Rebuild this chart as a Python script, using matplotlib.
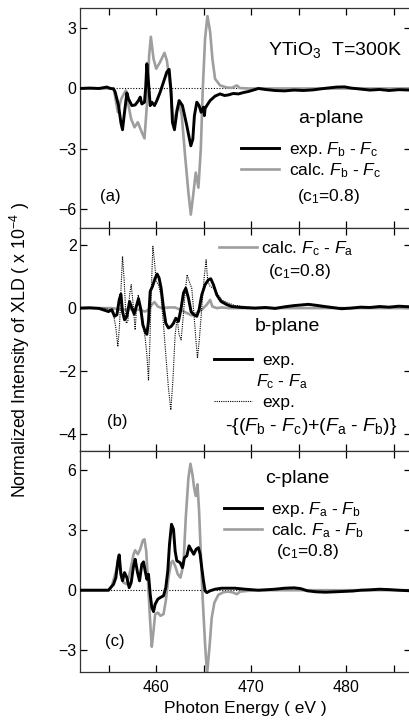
import matplotlib
matplotlib.use("Agg")
import matplotlib.pyplot as plt

plt.rcParams['font.family'] = ['Liberation Sans', 'DejaVu Sans']
plt.rcParams['mathtext.fontset'] = 'custom'
plt.rcParams['mathtext.rm'] = 'Liberation Sans'
plt.rcParams['mathtext.it'] = 'Liberation Sans:italic'
plt.rcParams['mathtext.bf'] = 'Liberation Sans:bold'

GRAY = '#9e9e9e'

# (a) a-plane : Fb - Fc
a_exp_e = [452.0, 453.0, 454.0, 454.82, 455.2, 455.53, 455.70, 456.05, 456.30, 456.47, 456.68, 456.93,
           457.10, 457.45, 457.80, 458.15, 458.33, 458.50, 458.78, 458.9, 459.03, 459.20, 459.38,
           459.55, 459.83, 460.08, 460.43, 460.78, 461.13, 461.37, 461.58, 461.72, 461.93, 462.18,
           462.42, 462.77, 463.23, 463.65, 463.86, 464.03, 464.28, 464.52, 464.73, 464.98, 465.08,
           465.15, 465.33, 465.68, 466.20, 466.73, 467.2, 467.61, 468.1, 468.66, 469.2, 469.71,
           470.2, 470.76, 471.5, 472.5, 473.5, 474.5, 475.5, 476.5, 477.3, 478.0, 479.0, 479.8,
           480.5, 481.5, 482.5, 483.5, 484.5, 485.5, 486.8]
a_exp_v = [0.0, 0.02, 0.0, 0.07, 0.0, -0.02, -0.18, -0.85, -1.7, -2.05, -1.18, -0.22,
           -0.52, -0.85, -0.82, -0.6, -0.43, -0.77, -0.68, 0.0, 1.23, 0.32, -0.85,
           -0.68, -0.85, -0.6, -0.18, 0.32, 0.82, 0.95, -0.18, -1.68, -2.05, -1.18,
           -0.6, -0.85, -1.85, -2.85, -2.52, -1.35, -0.68, -0.85, -1.18, -0.93, -1.35,
           -1.0, -0.85, -0.6, -0.38, -0.27, -0.35, -0.32, -0.25, -0.27, -0.2, -0.15,
           -0.08, 0.0, -0.05, -0.1, -0.12, -0.08, -0.1, -0.07, -0.02, 0.02, 0.07, 0.08,
           0.02, -0.03, -0.08, -0.05, -0.1, -0.06, -0.08]
a_calc_e = [452.0, 455.53, 455.70, 455.98, 456.33, 456.82, 457.10, 457.38, 457.73, 458.08, 458.50,
            458.78, 459.03, 459.27, 459.45, 459.73, 460.01, 460.43, 460.88, 461.13, 461.48, 461.72,
            461.90, 462.18, 462.42, 462.70, 463.05, 463.40, 463.65, 463.93, 464.17, 464.45, 464.70,
            464.91, 465.15, 465.40, 465.68, 465.92, 466.20, 466.73, 467.43, 467.96, 468.48, 468.83,
            469.71, 486.8]
a_calc_v = [0.0, 0.0, -0.43, -1.18, -0.52, -0.1, -0.85, -1.52, -1.93, -1.68, -2.18,
            -2.48, -0.85, 1.65, 2.57, 1.48, 0.98, 1.32, 1.77, 1.4, 0.15, -1.27,
            -1.68, -1.02, -0.68, -1.35, -3.35, -5.18, -6.27, -5.18, -4.18, -4.93, -3.02,
            0.0, 2.48, 3.6, 2.82, 1.48, 0.48, 0.15, 0.05, 0.03, 0.15, 0.02,
            0.0, 0.0]

# (b) b-plane : Fc - Fa
b_exp_e = [452.0, 453.0, 454.0, 455.00, 455.35, 455.63, 455.88, 456.12, 456.30, 456.47, 456.68,
           456.93, 457.21, 457.45, 457.70, 457.87, 458.15, 458.40, 458.61, 458.85, 459.03, 459.20,
           459.38, 459.62, 459.90, 460.11, 460.32, 460.53, 460.78, 461.02, 461.30, 461.58, 461.83,
           462.07, 462.35, 462.63, 462.88, 463.12, 463.40, 463.68, 463.96, 464.28, 464.52, 464.80,
           465.15, 465.50, 465.75, 466.03, 466.38, 466.83, 467.43, 467.96, 469.01, 470.41, 471.5,
           472.5, 473.5, 474.5, 475.3, 476.0, 476.8, 477.5, 478.5, 479.5, 480.5, 481.5, 482.5,
           483.5, 484.5, 485.5, 486.8]
b_exp_v = [0.0, 0.01, -0.01, -0.11, -0.05, -0.26, -0.21, 0.26, 0.44, -0.11, -0.37,
           -0.26, 0.21, 0.0, -0.19, 0.0, 0.30, -0.05, -0.53, -0.74, -0.83, -0.42,
           0.53, 0.69, 0.95, 1.08, 0.95, 0.63, 0.0, -0.48, -0.63, -0.58, -0.48,
           -0.32, -0.42, 0.0, 0.48, 0.63, 0.32, -0.11, -0.21, -0.26, -0.05, 0.42,
           0.74, 0.90, 0.93, 0.74, 0.42, 0.21, 0.11, 0.05, 0.02, 0.0, 0.02,
           -0.01, 0.04, 0.08, 0.1, 0.12, 0.09, 0.06, 0.02, -0.02, 0.0, 0.03, 0.02,
           0.05, 0.03, 0.06, 0.04]
b_calc_e = [452.0, 455.35, 456.05, 456.75, 457.45, 458.15, 458.85, 459.20, 459.55, 459.83, 460.18,
            460.60, 461.30, 462.00, 462.53, 463.05, 463.75, 464.10, 464.80, 465.33, 465.68, 465.92,
            466.38, 466.90, 467.61, 486.8]
b_calc_v = [0.0, 0.0, -0.03, -0.05, -0.03, -0.05, -0.11, -0.05, 0.11, 0.19, 0.05,
            0.0, 0.02, 0.02, -0.05, -0.13, -0.23, -0.19, -0.05, 0.11, 0.26, 0.05,
            0.0, 0.02, 0.0, 0.0]
b_sum_e = [452.0, 454.5, 455.18, 455.53, 455.77, 455.98, 456.16, 456.33, 456.47, 456.65, 456.86,
           457.03, 457.21, 457.38, 457.56, 457.80, 457.94, 458.12, 458.33, 458.57, 458.85, 459.03,
           459.20, 459.34, 459.48, 459.66, 459.83, 460.01, 460.25, 460.50, 460.78, 461.02, 461.30,
           461.55, 461.76, 462.00, 462.21, 462.42, 462.63, 462.84, 463.05, 463.26, 463.47, 463.75,
           463.96, 464.17, 464.35, 464.56, 464.80, 465.05, 465.26, 465.43, 465.68, 466.03, 466.38,
           466.90, 467.61, 468.31, 469.36, 470.41, 471.5, 472.5, 473.5, 474.5, 475.5, 476.5,
           477.5, 478.5, 479.5, 480.5, 481.5, 482.5, 483.5, 484.5, 485.5, 486.8]
b_sum_v = [0.0, 0.0, -0.05, -0.21, -0.63, -1.22, -0.53, 0.74, 1.64, 0.85, -0.48,
           -0.42, 0.42, 0.74, 0.21, -0.69, 0.0, 0.42, 0.05, -0.42, -0.95, -1.48,
           -2.28, -1.16, 0.42, 1.96, 1.48, 0.85, 0.74, 0.42, -0.53, -1.48, -2.54,
           -3.23, -2.33, -0.85, -0.32, -0.85, -1.01, -0.32, 0.48, 1.06, 0.85, 0.63,
           -0.11, -0.95, -1.59, -0.95, 0.0, 0.95, 1.53, 0.85, 0.69, 0.63, 0.48,
           0.26, 0.16, 0.08, 0.05, 0.0, 0.03, -0.02, 0.05, 0.07, 0.12, 0.08,
           0.04, 0.0, 0.02, -0.02, 0.04, 0.03, 0.06, 0.02, 0.07, 0.03]

# (c) c-plane : Fa - Fb
c_exp_e = [452.0, 455.0, 455.53, 455.77, 455.98, 456.12, 456.30, 456.47, 456.68, 456.93, 457.17,
           457.38, 457.63, 457.80, 458.05, 458.26, 458.50, 458.68, 458.85, 459.03, 459.20, 459.38,
           459.55, 459.73, 459.90, 460.18, 460.43, 460.78, 461.02, 461.23, 461.41, 461.62, 461.83,
           462.00, 462.18, 462.53, 462.77, 462.98, 463.23, 463.47, 463.75, 463.96, 464.21, 464.45,
           464.63, 464.80, 464.98, 465.15, 465.33, 465.68, 466.20, 466.90, 468.31, 469.36, 470.76,
           471.5, 472.5, 473.5, 474.5, 475.2, 475.9, 476.8, 477.8, 478.8, 479.8, 480.7, 481.5,
           482.5, 483.5, 484.5, 485.5, 486.8]
c_exp_v = [0.0, 0.0, 0.3, 0.63, 1.47, 1.77, 0.8, 0.47, 0.88, 0.63, 0.13,
           0.38, 1.22, 1.55, 0.88, 0.47, 1.3, 1.42, 0.97, 0.55, 0.8, -0.2,
           -0.87, -1.07, -0.7, -0.45, -0.37, -0.28, 0.13, 0.97, 2.3, 3.3, 3.05,
           1.97, 1.47, 1.38, 1.13, 1.63, 1.72, 2.22, 1.97, 1.8, 2.05, 2.13,
           1.8, 1.13, 0.47, -0.03, -0.12, -0.03, 0.05, 0.1, 0.1, 0.05, 0.0,
           0.02, 0.05, 0.1, 0.12, 0.08, -0.03, -0.08, -0.1, -0.08, -0.06, -0.04, 0.0,
           0.02, 0.05, 0.03, 0.0, -0.03]
c_calc_e = [452.0, 455.00, 455.35, 455.70, 455.98, 456.23, 456.58, 456.93, 457.28, 457.63, 457.80,
            458.08, 458.33, 458.61, 458.78, 458.96, 459.13, 459.31, 459.48, 459.55, 459.73, 459.90,
            460.18, 460.46, 460.78, 461.02, 461.30, 461.58, 461.76, 462.00, 462.28, 462.56, 462.88,
            463.12, 463.40, 463.61, 463.82, 464.00, 464.17, 464.35, 464.52, 464.73, 464.91, 465.15,
            465.36, 465.61, 465.85, 466.13, 466.55, 467.08, 467.61, 468.13, 468.48, 468.83, 469.71,
            470.76, 486.8]
c_calc_v = [0.0, 0.0, 0.22, 0.8, 1.3, 0.97, 0.38, 0.3, 0.97, 1.8, 2.0,
            1.8, 2.05, 2.5, 2.55, 1.97, 0.63, -1.03, -2.37, -2.83, -2.03, -1.2,
            -1.12, -1.28, -1.2, -0.53, 0.63, 1.38, 1.47, 1.22, 0.8, 0.63, 1.3,
            3.63, 5.63, 6.33, 5.8, 5.13, 4.72, 5.3, 3.97, 1.47, -0.53, -2.7,
            -4.2, -2.87, -1.37, -0.62, -0.23, -0.1, -0.07, -0.12, -0.2, -0.07, -0.03,
            0.0, 0.0]

xlim = (452.0, 486.8)

fig = plt.figure(figsize=(4.09, 7.23), dpi=100)
L, W = 80 / 409, 331 / 409
ax_a = fig.add_axes([L, 1 - 228.3 / 723, W, 220.3 / 723])
ax_b = fig.add_axes([L, 1 - 451.0 / 723, W, 222.7 / 723])
ax_c = fig.add_axes([L, 1 - 671.7 / 723, W, 220.7 / 723])

for ax in (ax_a, ax_b, ax_c):
    ax.set_xlim(*xlim)
    ax.set_xticks([460, 470, 480])
    ax.set_xticks([455, 465, 475, 485], minor=True)
    ax.tick_params(which='both', direction='in', top=True, right=True, length=5,
                   width=0.9, labelsize=11.5, pad=2.5)
    ax.tick_params(axis='x', pad=6)
    for s in ax.spines.values():
        s.set_linewidth(0.9)
        s.set_color('#333333')
for ax in (ax_a, ax_b):
    ax.tick_params(axis='x', labelbottom=False)

# panel a
ax_a.axhline(0, color='black', lw=0.8, ls=(0, (1, 1.5)))
ax_a.plot(a_calc_e, a_calc_v, color=GRAY, lw=1.9, label=r'calc. $F_{\rm b}$ - $F_{\rm c}$', zorder=2)
ax_a.plot(a_exp_e, a_exp_v, color='black', lw=2.1, label=r'exp. $F_{\rm b}$ - $F_{\rm c}$', zorder=3)
ax_a.set_ylim(-6.95, 4.0)
ax_a.set_yticks([3, 0, -3, -6])
h, l = ax_a.get_legend_handles_labels()
ax_a.legend(h[::-1], l[::-1], loc='upper left', bbox_to_anchor=(0.486, 0.40), frameon=False,
            fontsize=12.5, borderpad=0, borderaxespad=0, handlelength=2.2,
            handletextpad=0.55, labelspacing=0.12)
ax_a.text(0.972, 0.809, r'YTiO$_3$  T=300K', transform=ax_a.transAxes, ha='right', va='center', fontsize=14)
ax_a.text(0.758, 0.50, 'a-plane', transform=ax_a.transAxes, ha='center', va='center', fontsize=14)
ax_a.text(0.657, 0.143, r'(c$_1$=0.8)', transform=ax_a.transAxes, ha='left', va='center', fontsize=12.5)
ax_a.text(0.06, 0.143, '(a)', transform=ax_a.transAxes, ha='left', va='center', fontsize=12)

# panel b
ln_calc, = ax_b.plot(b_calc_e, b_calc_v, color=GRAY, lw=1.9, zorder=2)
ln_sum, = ax_b.plot(b_sum_e, b_sum_v, color='black', lw=0.8, ls=(0, (1, 1)), zorder=3)
ln_exp, = ax_b.plot(b_exp_e, b_exp_v, color='black', lw=2.1, zorder=4)
ax_b.set_ylim(-4.53, 2.53)
ax_b.set_yticks([2, 0, -2, -4])
leg1 = ax_b.legend([ln_calc], [r'calc. $F_{\rm c}$ - $F_{\rm a}$'], loc='upper left',
                   bbox_to_anchor=(0.42, 0.95), frameon=False, fontsize=12.5, borderpad=0,
                   borderaxespad=0, handlelength=2.2, handletextpad=0.2)
ax_b.add_artist(leg1)
ax_b.legend([ln_exp, ln_sum], ['exp.', 'exp.'], loc='upper left', bbox_to_anchor=(0.405, 0.44),
            frameon=False, fontsize=12.5, borderpad=0, borderaxespad=0, handlelength=2.2,
            handletextpad=0.6, labelspacing=1.55)
ax_b.text(0.567, 0.805, r'(c$_1$=0.8)', transform=ax_b.transAxes, ha='left', va='center', fontsize=12.5)
ax_b.text(0.628, 0.558, 'b-plane', transform=ax_b.transAxes, ha='center', va='center', fontsize=14)
ax_b.text(0.532, 0.311, r'$F_{\rm c}$ - $F_{\rm a}$', transform=ax_b.transAxes, ha='left', va='center', fontsize=12.5)
ax_b.text(0.438, 0.112, r'-{($F_{\rm b}$ - $F_{\rm c}$)+($F_{\rm a}$ - $F_{\rm b}$)}', transform=ax_b.transAxes,
          ha='left', va='center', fontsize=14, clip_on=False)
ax_b.text(0.082, 0.132, '(b)', transform=ax_b.transAxes, ha='left', va='center', fontsize=12)

# panel c
ax_c.axhline(0, color='black', lw=0.8, ls=(0, (1, 1.5)))
ax_c.plot(c_calc_e, c_calc_v, color=GRAY, lw=1.9, label=r'calc. $F_{\rm a}$ - $F_{\rm b}$', zorder=2)
ax_c.plot(c_exp_e, c_exp_v, color='black', lw=2.1, label=r'exp. $F_{\rm a}$ - $F_{\rm b}$', zorder=3)
ax_c.set_ylim(-4.08, 6.97)
ax_c.set_yticks([6, 3, 0, -3])
h, l = ax_c.get_legend_handles_labels()
ax_c.legend(h[::-1], l[::-1], loc='upper left', bbox_to_anchor=(0.434, 0.778), frameon=False,
            fontsize=12.5, borderpad=0, borderaxespad=0, handlelength=2.2,
            handletextpad=0.55, labelspacing=0.12)
ax_c.text(0.657, 0.876, 'c-plane', transform=ax_c.transAxes, ha='center', va='center', fontsize=14)
ax_c.text(0.593, 0.544, r'(c$_1$=0.8)', transform=ax_c.transAxes, ha='left', va='center', fontsize=12.5)
ax_c.text(0.076, 0.136, '(c)', transform=ax_c.transAxes, ha='left', va='center', fontsize=12)

ax_c.set_xlabel('Photon Energy ( eV )', fontsize=12.5, labelpad=4)
fig.text(20 / 409, 1 - 350 / 723, r'Normalized Intensity of XLD ( x 10$^{-4}$ )', rotation=90,
         ha='center', va='center', fontsize=12.8)

fig.savefig('out.png', dpi=100)
